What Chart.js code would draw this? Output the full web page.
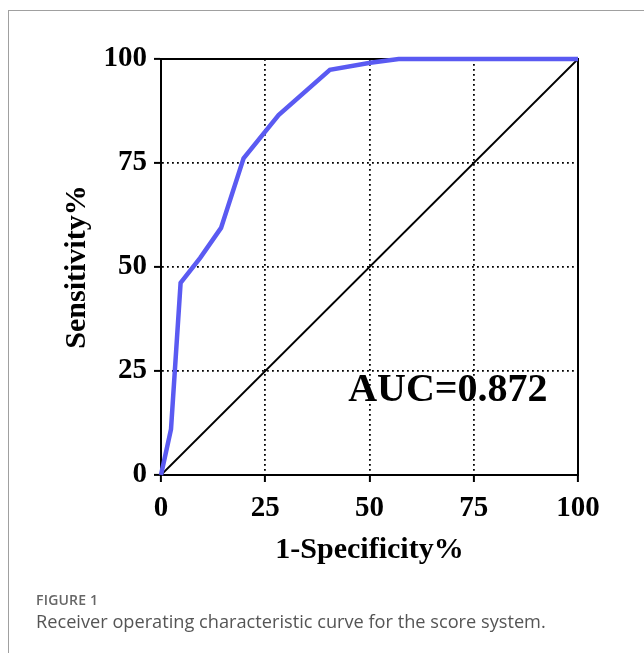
<!DOCTYPE HTML>
<html lang="EN">
  <head>
    <meta charset="utf-8">
    <title>ROC Curve</title>
    <style>
      body { margin: 0; background: #fff; }
      #frame { position: absolute; left: 8px; top: 10px; width: 660px; height: 660px;
               border-top: 1px solid #a0a0a0; border-left: 1px solid #a0a0a0; }
      #wrap { position: absolute; left: 0; top: 0; width: 644px; height: 653px; }
      #figLabel { position: absolute; left: 36px; top: 590px; font-family: "Open Sans", sans-serif;
                  font-size: 14px; font-weight: 600; color: #666; letter-spacing: 0.2px; }
      #figText { position: absolute; left: 36px; top: 609px; font-family: "Open Sans", sans-serif;
                 font-size: 18.2px; font-weight: 400; color: #555; }
    </style>
  </head>
  <body>
    <div id="frame"></div>
    <div id="wrap">
      <canvas id="rocChart"></canvas>
    </div>
    <div id="figLabel">FIGURE 1</div>
    <div id="figText">Receiver operating characteristic curve for the score system.</div>

    <script src="https://cdn.jsdelivr.net/npm/chart.js"></script>
    <script>
    // ROC curve points (1-specificity %, sensitivity %)
    const rocX = [0, 2.4, 4.7, 9.4, 14.4, 19.8, 28.2, 40.5, 50.2, 57, 100];
    const rocY = [0, 11, 46.2, 52.2, 59.4, 76.1, 86.5, 97.4, 99.1, 100, 100];
    const refX = [0, 100];
    const refY = [0, 100];
    const tickValues = [0, 25, 50, 75, 100];
    const aucText = 'AUC=0.872';

    const serif = '"Liberation Serif", "Times New Roman", serif';

    const boxPlugin = {
      id: 'box',
      beforeDatasetsDraw(chart) {
        const a = chart.chartArea;
        const ctx = chart.ctx;
        ctx.save();
        ctx.setLineDash([]);
        ctx.strokeStyle = '#000';
        ctx.lineWidth = 2;
        ctx.strokeRect(a.left, a.top, a.right - a.left, a.bottom - a.top);
        ctx.restore();
      },
      afterDatasetsDraw(chart) {
        const ctx = chart.ctx;
        const xs = chart.scales.x, ys = chart.scales.y;
        ctx.save();
        ctx.font = 'bold 40px ' + serif;
        ctx.fillStyle = '#000';
        ctx.textAlign = 'center';
        ctx.textBaseline = 'middle';
        ctx.fillText(aucText, xs.getPixelForValue(68.8), ys.getPixelForValue(20.2));
        ctx.restore();
      }
    };

    const gridOpts = {
      color: (c) => (c.tick && (c.tick.value === 0 || c.tick.value === 100)) ? 'rgba(0,0,0,0)' : '#000',
      lineWidth: 1.8,
      tickColor: '#000',
      tickWidth: 2,
      tickLength: 7,
      tickBorderDash: []
    };
    const borderOpts = { display: true, color: '#000', width: 2, dash: [1.8, 3.2] };

    new Chart(document.getElementById('rocChart'), {
      type: 'line',
      data: {
        datasets: [
          {
            data: rocX.map((x, i) => ({ x: x, y: rocY[i] })),
            borderColor: '#5a5af2',
            borderWidth: 4.5,
            pointRadius: 0,
            tension: 0,
            clip: false
          },
          {
            data: refX.map((x, i) => ({ x: x, y: refY[i] })),
            borderColor: '#000',
            borderWidth: 1.8,
            pointRadius: 0,
            clip: false
          }
        ]
      },
      options: {
        responsive: true,
        maintainAspectRatio: false,
        animation: false,
        layout: { padding: { left: 0, top: 59, right: 66, bottom: 78 } },
        plugins: { legend: { display: false }, tooltip: { enabled: false } },
        scales: {
          x: {
            type: 'linear',
            min: 0, max: 100,
            afterFit: (s) => { s.height = 100; },
            afterBuildTicks: (s) => { s.ticks = tickValues.map(v => ({ value: v })); },
            border: borderOpts,
            grid: gridOpts,
            ticks: { color: '#000', padding: 9, maxRotation: 0, font: { family: serif, weight: 'bold', size: 29 } },
            title: {
              display: true, text: '1-Specificity%', color: '#000',
              font: { family: serif, weight: 'bold', size: 30 },
              padding: { top: 0, bottom: 7 }
            }
          },
          y: {
            type: 'linear',
            min: 0, max: 100,
            afterFit: (s) => { s.width = 161; },
            afterBuildTicks: (s) => { s.ticks = tickValues.map(v => ({ value: v })); },
            border: borderOpts,
            grid: gridOpts,
            ticks: { color: '#000', padding: 7, font: { family: serif, weight: 'bold', size: 29 } },
            title: {
              display: true, text: 'Sensitivity%', color: '#000',
              font: { family: serif, weight: 'bold', size: 30 },
              padding: { top: 59, bottom: 0 }
            }
          }
        }
      },
      plugins: [boxPlugin]
    });
    </script>
  </body>
</html>
